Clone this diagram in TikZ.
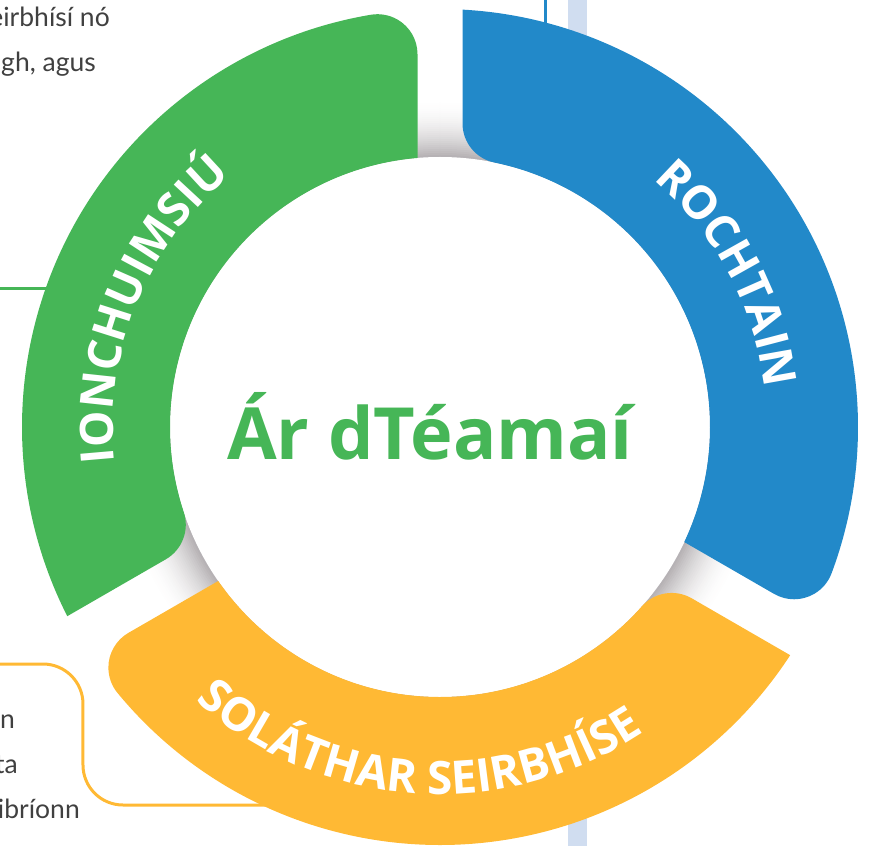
\documentclass[tikz,border=0pt]{standalone}
\usepackage{fontspec}
\setmainfont{Open Sans}
\newfontfamily\bodyfont{Lato}
\usetikzlibrary{calc,decorations.text}
\definecolor{ringgreen}{RGB}{70,182,87}
\definecolor{ringblue}{RGB}{34,137,201}
\definecolor{ringyellow}{RGB}{255,185,52}
\definecolor{barblue}{RGB}{208,221,240}
\definecolor{shadegray}{RGB}{125,118,122}
\definecolor{bodygray}{RGB}{64,64,64}
% g1, g2, colour : ring segment between gaps at angles g1 < g2
\newcommand{\ringsegment}[3]{%
  \fill[#3] (#1+4.78:270)
    -- ($(#1:372.80)+(#1+90:22.5)$)
    arc[start angle=#1-90, end angle=#1+9.517, radius=40]
    arc[start angle=#1+9.517, end angle=#2-3.0857, radius=418]
    -- ($(#2:303.63)+(#2-90:22.5)$)
    arc[start angle=#2+90, end angle=#2+168.37, radius=40]
    arc[start angle=#2-11.63, end angle=#1+4.78, radius=270]
    -- cycle;}
\tikzset{
  bodytext/.style={inner sep=0pt, font=\bodyfont\fontsize{26.5}{26.5}\selectfont, text=bodygray},
  connector/.style={line width=3},
  bandlabel/.style={decorate, decoration={text along path, text align=center, text color=white,
     text={|\bfseries\fontsize{46}{46}\selectfont|#1}}}
}
\begin{document}
\begin{tikzpicture}[x=1pt,y=1pt]
\useasboundingbox (-440,-419) rectangle (435,427);
% light blue bar behind the ring
\fill[barblue] (128,-419) rectangle (147,427);
% connectors
\coordinate (gStart) at (-440,138);
\coordinate (gEnd) at (-380,138);
\draw[connector, ringgreen] (gStart) -- (gEnd);
\coordinate (bStart) at (105,427);
\coordinate (bEnd) at (105,395);
\draw[connector, ringblue] (bStart) -- (bEnd);
\coordinate (yStart) at (-440,-237);
\coordinate (yTurnA) at (-357,-237);
\coordinate (yTurnB) at (-357,-378);
\coordinate (yEnd) at (-165,-378);
\draw[connector, ringyellow, rounded corners=40] (yStart) -- (yTurnA) -- (yTurnB) -- (yEnd);
% gray fold shading under the ring
\foreach \r in {330,328,...,272} {
  \pgfmathsetmacro\p{60*((330-\r)/60)^2}
  \fill[shadegray!\p!white] (0,0) circle[radius=\r];
}
\fill[white] (0,0) circle[radius=270];
% ring segments
\ringsegment{90}{210}{ringgreen}
\ringsegment{210}{330}{ringyellow}
\ringsegment{330}{450}{ringblue}
% band labels
\path[bandlabel={IONCHUIMSIÚ}] (200:327) arc[start angle=200, end angle=116, radius=327];
\path[bandlabel={ROCHTAIN}] (70:327) arc[start angle=70, end angle=-14, radius=327];
\path[bandlabel={SOLÁTHAR SEIRBHÍSE}] (220:367) arc[start angle=220, end angle=312, radius=367];
% centre title
\node[anchor=base, inner sep=0pt, text=ringgreen, font=\bfseries\fontsize{72}{72}\selectfont] (title) at (-10,-32) {Ár dTéamaí};
% text fragments
\node[bodytext, anchor=base east] (t1) at (-330,400) {eirbhísí nó};
\node[bodytext, anchor=base east] (t2) at (-344,355) {gh, agus};
\node[bodytext, anchor=base east] (t3) at (-425,-301) {n};
\node[bodytext, anchor=base east] (t4) at (-422,-346) {ta};
\node[bodytext, anchor=base east] (t5) at (-360,-391) {ibríonn};
\end{tikzpicture}
\end{document}
